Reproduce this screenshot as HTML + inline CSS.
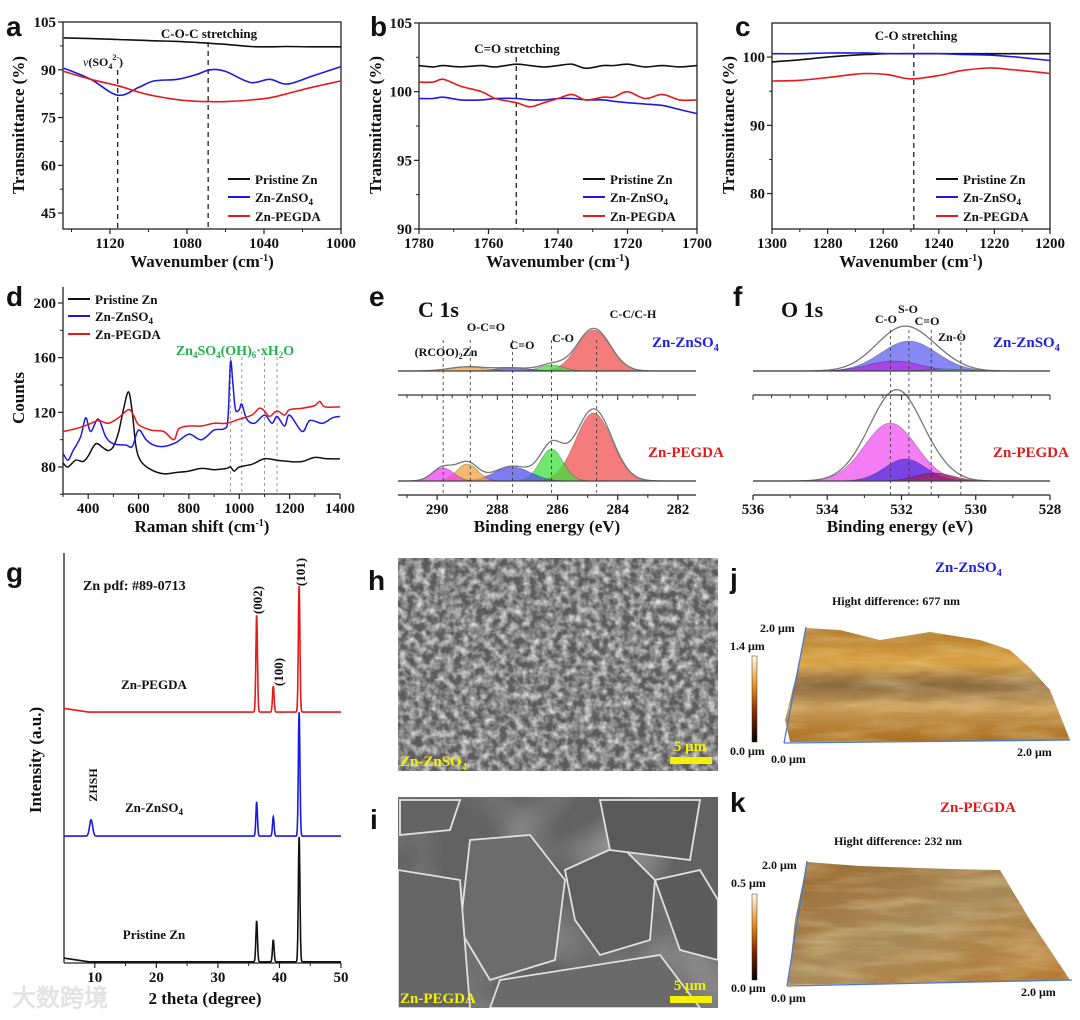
<!DOCTYPE html>
<html><head><meta charset="utf-8"><style>
html,body{margin:0;padding:0;background:#fff;}
svg{display:block;font-family:"Liberation Serif",serif;font-weight:bold;}
.sans{font-family:"Liberation Sans",sans-serif;}
</style></head><body>
<svg id="fig" width="1080" height="1020" viewBox="0 0 1080 1020" xmlns="http://www.w3.org/2000/svg">
<defs>
<filter id="semA" x="0" y="0" width="100%" height="100%"><feTurbulence type="fractalNoise" baseFrequency="0.13" numOctaves="3" seed="3"/><feColorMatrix type="matrix" values="0 0 0 0 0.82  0 0 0 0 0.82  0 0 0 0 0.82  1.7 0 0 0 -0.55"/></filter>
<filter id="semB" x="0" y="0" width="100%" height="100%"><feTurbulence type="fractalNoise" baseFrequency="0.012" numOctaves="2" seed="7"/><feColorMatrix type="matrix" values="0 0 0 0 0.6  0 0 0 0 0.6  0 0 0 0 0.6  1.2 0 0 0 -0.5"/></filter>
<filter id="afmT" x="0" y="0" width="100%" height="100%"><feTurbulence type="fractalNoise" baseFrequency="0.015 0.08" numOctaves="3" seed="2" result="n"/><feColorMatrix in="n" type="matrix" values="0 0 0 0 1  0 0 0 0 0.85  0 0 0 0 0.5  1.4 0 0 0 -0.55" result="c"/><feComposite in="c" in2="SourceGraphic" operator="in"/></filter>
<linearGradient id="cbar" x1="0" y1="1" x2="0" y2="0"><stop offset="0" stop-color="#000"/><stop offset="0.35" stop-color="#8a2a05"/><stop offset="0.65" stop-color="#e8901c"/><stop offset="1" stop-color="#fffbe8"/></linearGradient>
<linearGradient id="afm1" x1="0" y1="0" x2="0" y2="1"><stop offset="0" stop-color="#b07a30"/><stop offset="0.3" stop-color="#d9a040"/><stop offset="0.5" stop-color="#8a6a40"/><stop offset="0.7" stop-color="#c89a55"/><stop offset="1" stop-color="#a86e20"/></linearGradient>
<linearGradient id="afm2" x1="0" y1="0" x2="1" y2="1"><stop offset="0" stop-color="#9a6a30"/><stop offset="0.5" stop-color="#a88a5a"/><stop offset="1" stop-color="#b87a30"/></linearGradient>
<clipPath id="clipH"><rect x="398" y="558" width="320" height="213"/></clipPath>
<clipPath id="clipI"><rect x="398" y="797" width="320" height="211"/></clipPath>
</defs>
<g id="root"></g>
</svg>
<script>
// ---------- data ----------
const aX = [1144,1130,1116,1105,1097,1085,1075,1068,1060,1047,1037,1028,1015,1000];
const aBlack = [100,99.8,99.5,99.3,99.1,98.9,98.6,98.3,98,97.3,97.2,97.3,97.2,97.2];
const aBlue = [90.5,87,82,84.5,86.5,87,88.5,90,89.5,86,87,85.5,88,91];
const aRed = [89.5,87,85,83,81.8,80.6,80.1,80,80,80.5,81.2,82.5,84.5,86.5];
const bX = [1780,1776,1773,1768,1762,1758,1752,1748,1744,1740,1736,1732,1727,1724,1720,1715,1710,1705,1700];
const bBlack = [101.9,101.8,101.9,101.8,101.9,101.8,102,101.9,101.8,101.9,102,101.7,101.9,101.9,102,101.8,101.9,101.8,101.9];
const bBlue = [99.5,99.5,99.6,99.4,99.4,99.5,99.5,99.4,99.4,99.5,99.5,99.4,99.4,99.3,99.2,99.1,99.0,98.7,98.4];
const bRed = [100.7,100.7,100.9,100.4,100,99.5,99.2,98.9,99.2,99.5,99.8,99.4,99.6,99.6,100,99.5,99.8,99.4,99.4];
const cX = [1300,1290,1280,1270,1265,1258,1250,1240,1232,1222,1215,1212,1200];
const cBlack = [99.3,99.6,100,100.3,100.4,100.5,100.5,100.5,100.5,100.5,100.5,100.5,100.5];
const cBlue = [100.5,100.5,100.6,100.6,100.6,100.5,100.5,100.5,100.4,100.3,100.1,100,99.5];
const cRed = [96.5,96.6,97,97.5,97.6,97.4,96.8,97.3,98,98.4,98.2,98.1,97.6];
const dXk = [300,320,350,380,400,430,460,480,500,520,540,560,575,590,610,650,700,750,800,850,900,950,965,980,1000,1050,1100,1150,1200,1250,1300,1350,1400];
const dBlack = [83,80,85,84,88,97,94,92,95,105,122,135,120,95,84,78,75,76,77,79,78,79,80,77,80,82,86,85,84,84,87,86,86];
const dXb = [300,320,340,370,390,410,440,470,500,550,575,600,630,660,700,750,800,850,900,940,955,965,975,985,1000,1010,1030,1060,1100,1130,1150,1180,1200,1250,1280,1330,1370,1400];
const dBlue = [90,85,92,102,116,106,115,102,97,96,95,107,100,96,95,98,104,100,107,108,115,157,140,122,122,126,115,112,118,112,117,110,118,106,114,112,116,117];
const dXr = [300,350,400,440,480,520,560,580,600,650,700,740,760,800,850,900,950,1000,1050,1080,1100,1120,1150,1180,1200,1250,1300,1320,1340,1400];
const dRed = [106,108,111,114,112,116,122,118,111,107,106,100,108,110,110,112,112,115,118,123,121,117,121,118,122,123,125,128,124,124];
const eTopCenters = [284.8,286.2,287.5,289.0];
const eTopHeights = [41,6,3,4];
const eTopWidths = [0.55,0.4,0.6,0.6];
const eBotCenters = [284.8,286.2,287.5,289.0,289.8];
const eBotHeights = [68,32,14,17,13];
const eBotWidths = [0.6,0.38,0.6,0.35,0.35];
const fTopCenters = [531.8,532.2,530.8];
const fTopHeights = [30,10,2];
const fTopWidths = [0.75,0.7,0.5];
const fBotCenters = [532.3,531.9,531.1];
const fBotHeights = [58,22,8];
const fBotWidths = [0.7,0.55,0.5];
const gPeaks = [36.3,39.0,43.2];
const gBlackH = [10,5.4,30.6];
const gBlueH = [8.3,4.7,30.4];
const gRedH = [23.8,6.4,30.9];
const gBase = [0.3,31.1,61.5];
const gZhsh = [9.4,4];

// ---------- helpers ----------
const NS='http://www.w3.org/2000/svg';
const root=document.getElementById('root');
function mk(tag,attrs,parent){const e=document.createElementNS(NS,tag);for(const k in attrs)e.setAttribute(k,attrs[k]);(parent||root).appendChild(e);return e;}
function lin(d0,d1,r0,r1){return v=>r0+(v-d0)*(r1-r0)/(d1-d0);}
function smooth(pts){let d='M'+pts[0][0].toFixed(1)+','+pts[0][1].toFixed(1);for(let i=0;i<pts.length-1;i++){const p0=pts[i-1]||pts[i],p1=pts[i],p2=pts[i+1],p3=pts[i+2]||p2;const c1=[p1[0]+(p2[0]-p0[0])/6,p1[1]+(p2[1]-p0[1])/6],c2=[p2[0]-(p3[0]-p1[0])/6,p2[1]-(p3[1]-p1[1])/6];d+=' C'+c1.map(v=>v.toFixed(1))+' '+c2.map(v=>v.toFixed(1))+' '+p2.map(v=>v.toFixed(1));}return d;}
function text(x,y,s,opt,name){opt=opt||{};const t=mk('text',{x:x,y:y,'font-size':opt.size||14,'text-anchor':opt.anchor||'middle',fill:opt.fill||'#111'});if(opt.cls)t.setAttribute('class',opt.cls);if(opt.rot)t.setAttribute('transform','rotate('+opt.rot+' '+x+' '+y+')');if(opt.html)t.innerHTML=s;else t.textContent=s;


return t;}
function line(x1,y1,x2,y2,stroke,w,dash,name){const l=mk('line',{x1:x1,y1:y1,x2:x2,y2:y2,stroke:stroke,'stroke-width':w||1});if(dash)l.setAttribute('stroke-dasharray',dash);


return l;}
function xTicks(sx,y,ticks,minor,labelFmt,name){ticks.forEach(v=>{line(sx(v),y,sx(v),y+5,'#222',1.2,null,name+'-tick');text(sx(v),y+19,labelFmt?labelFmt(v):String(v),{size:15},name+'-tick-label');});(minor||[]).forEach(v=>line(sx(v),y,sx(v),y+3,'#222',1,null,name+'-minor-tick'));}
function yTicks(sy,x,ticks,minor,name){ticks.forEach(v=>{line(x-5,sy(v),x,sy(v),'#222',1.2,null,name+'-tick');text(x-7,sy(v)+5,String(v),{size:15,anchor:'end'},name+'-tick-label');});(minor||[]).forEach(v=>line(x-3,sy(v),x,sy(v),'#222',1,null,name+'-minor-tick'));}
function series(xs,ys,sx,sy,color,name,w){const p=mk('path',{d:smooth(xs.map((x,i)=>[sx(x),sy(ys[i])])),fill:'none',stroke:color,'stroke-width':w||1.6});


return p;}
function box(x0,y0,x1,y1,name){const r=mk('rect',{x:x0,y:y0,width:x1-x0,height:y1-y0,fill:'none',stroke:'#222','stroke-width':1.3});

}
function legend(x,ys,name){const cols=['#111','#1a1ae6','#e61a1a'];const labs=['Pristine Zn','Zn-ZnSO<tspan font-size="9" dy="3">4</tspan>','Zn-PEGDA'];ys.forEach((y,i)=>{line(x,y,x+22,y,cols[i],2,null,name+'-swatch-'+i);text(x+27,y+5,labs[i],{size:13,anchor:'start',html:true},name+'-entry-'+i);});}
function range(a,b,s){const r=[];for(let v=a;s>0?v<=b+1e-9:v>=b-1e-9;v+=s)r.push(Math.round(v*1000)/1000);return r;}
function panelLetter(x,y,s){text(x,y,s,{size:28,anchor:'start',cls:'sans'},'panel-letter-'+s);}

// ---------- panel a ----------
(function(){const sx=lin(1144.4,1000,63,341),sy=lin(40,105,229,22);
box(63,22,341,229,'panel-a-frame');
line(sx(1116),70,sx(1116),229,'#222',1.3,'5,4','panel-a-marker-so4');
line(sx(1069),42,sx(1069),229,'#222',1.3,'5,4','panel-a-marker-coc');
series(aX,aBlack,sx,sy,'#111','panel-a-pristine-line');
series(aX,aBlue,sx,sy,'#1a1ae6','panel-a-znso4-line');
series(aX,aRed,sx,sy,'#e61a1a','panel-a-pegda-line');
xTicks(sx,229,[1120,1080,1040,1000],[1140,1100,1060,1020],null,'panel-a-x');
yTicks(sy,63,[105,90,75,60,45],[97.5,82.5,67.5,52.5],'panel-a-y');
text(202,267,'Wavenumber (cm<tspan font-size="10" dy="-6">-1</tspan><tspan dy="6">)</tspan>',{size:17,html:true},'panel-a-x-title');
text(24,125,'Transmittance (%)',{size:17,rot:-90},'panel-a-y-title');
text(209,38,'C-O-C stretching',{size:13},'panel-a-annotation-coc');
text(83,66,'<tspan font-style="italic" font-weight="normal">ν</tspan>(SO<tspan font-size="8" dy="3">4</tspan><tspan font-size="8" dy="-9">2-</tspan><tspan dy="6">)</tspan>',{size:12,anchor:'start',html:true},'panel-a-annotation-so4');
legend(228,[179,197,216],'panel-a-legend');
panelLetter(6,36,'a');})();

// ---------- panel b ----------
(function(){const sx=lin(1780,1700,419,697),sy=lin(90,105,229,23);
box(419,23,697,229,'panel-b-frame');
line(sx(1752),57,sx(1752),229,'#222',1.3,'5,4','panel-b-marker-co');
series(bX,bBlack,sx,sy,'#111','panel-b-pristine-line');
series(bX,bBlue,sx,sy,'#1a1ae6','panel-b-znso4-line');
series(bX,bRed,sx,sy,'#e61a1a','panel-b-pegda-line');
xTicks(sx,229,[1780,1760,1740,1720,1700],[1770,1750,1730,1710],null,'panel-b-x');
yTicks(sy,419,[105,100,95,90],[102.5,97.5,92.5],'panel-b-y');
text(558,267,'Wavenumber (cm<tspan font-size="10" dy="-6">-1</tspan><tspan dy="6">)</tspan>',{size:17,html:true},'panel-b-x-title');
text(381,125,'Transmittance (%)',{size:17,rot:-90},'panel-b-y-title');
text(517,53,'C=O stretching',{size:13},'panel-b-annotation');
legend(583,[179,197,216],'panel-b-legend');
panelLetter(370,36,'b');})();

// ---------- panel c ----------
(function(){const sx=lin(1300,1200,772,1050),sy=lin(74.8,105,229,23);
box(772,23,1050,229,'panel-c-frame');
line(sx(1249),44,sx(1249),229,'#222',1.3,'5,4','panel-c-marker-co');
series(cX,cBlack,sx,sy,'#111','panel-c-pristine-line');
series(cX,cBlue,sx,sy,'#1a1ae6','panel-c-znso4-line');
series(cX,cRed,sx,sy,'#e61a1a','panel-c-pegda-line');
xTicks(sx,229,[1300,1280,1260,1240,1220,1200],[1290,1270,1250,1230,1210],null,'panel-c-x');
yTicks(sy,772,[100,90,80],[95,85],'panel-c-y');
text(911,267,'Wavenumber (cm<tspan font-size="10" dy="-6">-1</tspan><tspan dy="6">)</tspan>',{size:17,html:true},'panel-c-x-title');
text(734,125,'Transmittance (%)',{size:17,rot:-90},'panel-c-y-title');
text(916,40,'C-O stretching',{size:13},'panel-c-annotation');
legend(936,[179,197,216],'panel-c-legend');
panelLetter(735,36,'c');})();

// ---------- panel d ----------
(function(){const sx=lin(300,1400,63,340),sy=lin(80,200,467,303);
line(63,287,63,494,'#222',1.3,null,'panel-d-y-axis');line(63,494,340,494,'#222',1.3,null,'panel-d-x-axis');
[965,1010,1100,1150].forEach(v=>line(sx(v),357,sx(v),494,'#999',1,'3,3','panel-d-marker'));
series(dXk,dBlack,sx,sy,'#111','panel-d-pristine-line',1.5);
series(dXb,dBlue,sx,sy,'#1a1ae6','panel-d-znso4-line',1.5);
series(dXr,dRed,sx,sy,'#e61a1a','panel-d-pegda-line',1.5);
xTicks(sx,494,[400,600,800,1000,1200,1400],[300,500,700,900,1100,1300],null,'panel-d-x');
yTicks(sy,63,[200,160,120,80],[180,140,100,60],'panel-d-y');
text(202,532,'Raman shift (cm<tspan font-size="10" dy="-6">-1</tspan><tspan dy="6">)</tspan>',{size:17,html:true},'panel-d-x-title');
text(24,398,'Counts',{size:17,rot:-90},'panel-d-y-title');
text(235,355,'Zn<tspan font-size="9" dy="3">4</tspan><tspan dy="-3">SO</tspan><tspan font-size="9" dy="3">4</tspan><tspan dy="-3">(OH)</tspan><tspan font-size="9" dy="3">6</tspan><tspan dy="-3">·xH</tspan><tspan font-size="9" dy="3">2</tspan><tspan dy="-3">O</tspan>',{size:14,fill:'#22b04a',html:true},'panel-d-annotation-zhsh');
legend(68,[299,316,334],'panel-d-legend');
panelLetter(6,306,'d');})();

// ---------- XPS helper ----------
function gauss(x,c,h,s){return h*Math.exp(-(x-c)*(x-c)/(2*s*s));}
function xps(sx,d0,d1,base,centers,heights,widths,colors,envScale,name){
  const xs=[];for(let v=d0;v>=d1;v-=0.04)xs.push(v);
  centers.forEach((c,i)=>{let d='M'+sx(d0)+','+base;xs.forEach(x=>{d+=' L'+sx(x).toFixed(1)+','+(base-gauss(x,c,heights[i],widths[i])).toFixed(1);});d+=' L'+sx(d1)+','+base+'Z';
    const p=mk('path',{d:d,fill:colors[i],'fill-opacity':0.75,stroke:'rgba(0,0,0,0.35)','stroke-width':0.6});
    
    });
  let d='';xs.forEach((x,j)=>{let s=0;centers.forEach((c,i)=>s+=gauss(x,c,heights[i],widths[i]));if(envScale)s=s*envScale;d+=(j?' L':'M')+sx(x).toFixed(1)+','+(base-s).toFixed(1);});
  const e=mk('path',{d:d,fill:'none',stroke:'#777','stroke-width':1.3});
  
  
  line(sx(d0),base,sx(d1),base,'#444',1.2,null,name+'-baseline');}

// ---------- panel e ----------
(function(){const sx=lin(291.3,281.4,398,696);
xps(sx,291.3,281.4,371,eTopCenters,eTopHeights,eTopWidths,['#f05050','#40e040','#5050f0','#f0a040'],1.04,'panel-e-znso4');
xps(sx,291.3,281.4,481,eBotCenters,eBotHeights,eBotWidths,['#f05050','#40e040','#5050f0','#f0a040','#f040f0'],1.06,'panel-e-pegda');
line(398,395,696,395,'#333',1.2,null,'panel-e-separator');
range(291,282,-0.5).forEach(v=>line(sx(v),395,sx(v),Number.isInteger(v)&&v%2===0?400:398,'#333',1,null,'panel-e-sep-tick'));
[289.8,288.9,287.5,286.2,284.7].forEach(v=>line(sx(v),340,sx(v),495,'#333',0.8,'3,3','panel-e-marker'));
line(398,495,696,495,'#222',1.3,null,'panel-e-x-axis');
xTicks(sx,495,[290,288,286,284,282],range(291,283,-1).filter(v=>v%2),null,'panel-e-x');
text(547,532,'Binding energy (eV)',{size:17},'panel-e-x-title');
text(418,317,'C 1s',{size:22,anchor:'start'},'panel-e-title');
text(633,318,'C-C/C-H',{size:12},'panel-e-label-cc');
text(563,342,'C-O',{size:12},'panel-e-label-co');
text(522,349,'C=O',{size:12},'panel-e-label-c=o');
text(486,331,'O-C=O',{size:12},'panel-e-label-oco');
text(446,356,'(RCOO)<tspan font-size="8" dy="3">2</tspan><tspan dy="-3">Zn</tspan>',{size:12,html:true},'panel-e-label-rcoozn');
text(652,347,'Zn-ZnSO<tspan font-size="10" dy="4">4</tspan>',{size:15,fill:'#2020e0',anchor:'start',html:true},'panel-e-label-znso4');
text(648,457,'Zn-PEGDA',{size:15,fill:'#e01b1b',anchor:'start'},'panel-e-label-pegda');
panelLetter(369,306,'e');})();

// ---------- panel f ----------
(function(){const sx=lin(536,528,753,1050);
xps(sx,536,528,371,fTopCenters,fTopHeights,fTopWidths,['#6060f0','#b030e0','#40c060'],1.15,'panel-f-znso4');
xps(sx,536,528,481,fBotCenters,fBotHeights,fBotWidths,['#f050f0','#5030e0','#a02060'],1.18,'panel-f-pegda');
line(753,395,1050,395,'#333',1.2,null,'panel-f-separator');
range(536,528,-0.5).forEach(v=>line(sx(v),395,sx(v),Number.isInteger(v)&&v%2===0?400:398,'#333',1,null,'panel-f-sep-tick'));
[532.3,531.8,531.2,530.4].forEach(v=>line(sx(v),330,sx(v),495,'#333',0.8,'3,3','panel-f-marker'));
line(753,495,1050,495,'#222',1.3,null,'panel-f-x-axis');
xTicks(sx,495,[536,534,532,530,528],[535,533,531,529],null,'panel-f-x');
text(900,532,'Binding energy (eV)',{size:17},'panel-f-x-title');
text(781,317,'O 1s',{size:22,anchor:'start'},'panel-f-title');
text(908,313,'S-O',{size:12},'panel-f-label-so');
text(886,323,'C-O',{size:12},'panel-f-label-co');
text(927,325,'C=O',{size:12},'panel-f-label-c=o');
text(952,341,'Zn-O',{size:12},'panel-f-label-zno');
text(993,347,'Zn-ZnSO<tspan font-size="10" dy="4">4</tspan>',{size:15,fill:'#2020e0',anchor:'start',html:true},'panel-f-label-znso4');
text(993,457,'Zn-PEGDA',{size:15,fill:'#e01b1b',anchor:'start'},'panel-f-label-pegda');
panelLetter(733,306,'f');})();

// ---------- panel g ----------
(function(){const sx=lin(5,50,64,341),sy=lin(0,100,963,555);
line(64,553,64,963,'#222',1.3,null,'panel-g-y-axis');line(64,963,341,963,'#222',1.3,null,'panel-g-x-axis');
const names=['panel-g-pristine-line','panel-g-znso4-line','panel-g-pegda-line'];const cols=['#111','#1a1ae6','#e61a1a'];const hs=[gBlackH,gBlueH,gRedH];
[0,1,2].forEach(k=>{let d='';for(let x=5;x<=50.001;x+=0.04){let y=gBase[k]+Math.max(0,(9-x)/4)*0.9*(k===1?0:1);gPeaks.forEach((c,i)=>y+=gauss(x,c,hs[k][i],0.13));if(k===1)y+=gauss(x,gZhsh[0],gZhsh[1],0.25);d+=(d?' L':'M')+sx(x).toFixed(1)+','+sy(y).toFixed(1);}
 const p=mk('path',{d:d,fill:'none',stroke:cols[k],'stroke-width':1.6});
 
 });
xTicks(sx,963,[10,20,30,40,50],[15,25,35,45],null,'panel-g-x');
text(205,1004,'2 theta (degree)',{size:17},'panel-g-x-title');
text(41,760,'Intensity (a.u.)',{size:17,rot:-90},'panel-g-y-title');
text(83,590,'Zn pdf: #89-0713',{size:14,anchor:'start'},'panel-g-pdf-label');
text(262,600,'(002)',{size:13,rot:-90},'panel-g-label-002');
text(283,672,'(100)',{size:13,rot:-90},'panel-g-label-100');
text(305,572,'(101)',{size:13,rot:-90},'panel-g-label-101');
text(154,689,'Zn-PEGDA',{size:13},'panel-g-label-pegda');
text(154,812,'Zn-ZnSO<tspan font-size="9" dy="3">4</tspan>',{size:13,html:true},'panel-g-label-znso4');
text(97,785,'ZHSH',{size:12,rot:-90},'panel-g-label-zhsh');
text(154,939,'Pristine Zn',{size:13},'panel-g-label-pristine');
text(12,1006,'大数跨境',{size:24,anchor:'start',fill:'#e2e2e2',cls:'sans'},'watermark');
panelLetter(6,582,'g');})();

// ---------- SEM h, i ----------
(function(){
const gh=mk('g',{'clip-path':'url(#clipH)'});


mk('rect',{x:398,y:558,width:320,height:213,fill:'#5c5c5c'},gh);
mk('rect',{x:398,y:558,width:320,height:213,filter:'url(#semA)'},gh);
const gi=mk('g',{'clip-path':'url(#clipI)'});


mk('rect',{x:398,y:797,width:320,height:211,fill:'#626262'},gi);
mk('rect',{x:398,y:797,width:320,height:211,filter:'url(#semB)'},gi);
[['470,840 530,835 565,880 555,960 490,980 460,930','#6c6c6c'],['565,870 620,845 655,880 650,940 600,955 575,920','#5e5e5e'],['500,980 660,955 700,1008 490,1008','#6a6a6a'],['398,870 460,880 470,1008 398,1008','#656565'],['600,800 700,800 690,860 610,850','#5a5a5a'],['655,880 700,870 718,900 718,960 680,950','#5c5c5c'],['400,800 460,800 450,830 400,835','#646464']].forEach(p=>{const pg=mk('polygon',{points:p[0],fill:p[1],stroke:'#e0e0e0','stroke-width':1.8},gi);});
text(400,766,'Zn-ZnSO<tspan font-size="10" dy="4">4</tspan>',{size:15,fill:'#f5f000',anchor:'start',html:true},'sem-label-znso4');
text(690,751,'5 μm',{size:15,fill:'#f5f000'},'scale-bar-label-h');
mk('rect',{x:670,y:757,width:42,height:7,fill:'#f5f000'});
text(400,1003,'Zn-PEGDA',{size:15,fill:'#f5f000',anchor:'start'},'sem-label-pegda');
text(690,990,'5 μm',{size:15,fill:'#f5f000'},'scale-bar-label-i');
mk('rect',{x:670,y:996,width:42,height:7,fill:'#f5f000'});
panelLetter(368,590,'h');panelLetter(370,829,'i');})();

// ---------- AFM j, k ----------
(function(){
function afm(pts,grad,name){const p=mk('polygon',{points:pts,fill:'url(#'+grad+')'});const q=mk('polygon',{points:pts,fill:'#000',filter:'url(#afmT)','fill-opacity':0.5});}
afm('806,628 840,630 880,640 930,632 980,640 1010,650 1030,668 1050,690 1060,715 1070,740 790,742 785,720 795,680','afm1','afm-surface-znso4');
line(806,627,784,743,'#4a7ad0',1.3,null,'afm-j-axis-y');line(784,743,1070,740,'#4a7ad0',1.3,null,'afm-j-axis-x');
mk('rect',{x:752,y:656,width:5,height:86,fill:'url(#cbar)',stroke:'#333','stroke-width':0.5});
text(935,572,'Zn-ZnSO<tspan font-size="10" dy="4">4</tspan>',{size:15,fill:'#2020e0',anchor:'start',html:true},'afm-j-sample-label');
text(896,605,'Hight difference: 677 nm',{size:12},'afm-j-height-diff');
text(760,632,'2.0 μm',{size:12,anchor:'start'},'afm-j-y-label');
text(730,650,'1.4 μm',{size:12,anchor:'start'},'afm-j-cbar-max');
text(730,755,'0.0 μm',{size:12,anchor:'start'},'afm-j-cbar-min');
text(771,763,'0.0 μm',{size:12,anchor:'start'},'afm-j-origin');
text(1017,756,'2.0 μm',{size:12,anchor:'start'},'afm-j-x-label');
afm('807,862 860,866 950,869 1000,870 1030,920 1070,980 788,985 795,920','afm2','afm-surface-pegda');
line(807,861,787,986,'#4a7ad0',1.3,null,'afm-k-axis-y');line(787,986,1072,980,'#4a7ad0',1.3,null,'afm-k-axis-x');
mk('rect',{x:752,y:894,width:5,height:86,fill:'url(#cbar)',stroke:'#333','stroke-width':0.5});
text(940,812,'Zn-PEGDA',{size:15,fill:'#e01b1b',anchor:'start'},'afm-k-sample-label');
text(898,845,'Hight difference: 232 nm',{size:12},'afm-k-height-diff');
text(762,869,'2.0 μm',{size:12,anchor:'start'},'afm-k-y-label');
text(731,887,'0.5 μm',{size:12,anchor:'start'},'afm-k-cbar-max');
text(731,992,'0.0 μm',{size:12,anchor:'start'},'afm-k-cbar-min');
text(771,1002,'0.0 μm',{size:12,anchor:'start'},'afm-k-origin');
text(1021,996,'2.0 μm',{size:12,anchor:'start'},'afm-k-x-label');
panelLetter(730,588,'j');panelLetter(730,812,'k');})();
</script>
</body></html>
